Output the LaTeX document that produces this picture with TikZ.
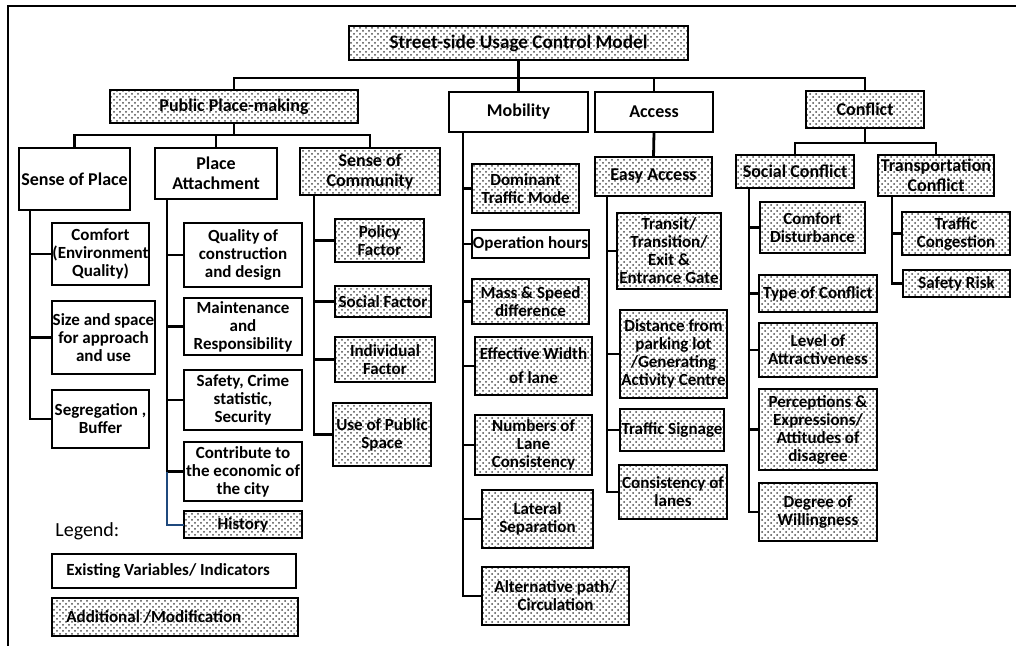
\documentclass[tikz,border=0pt]{standalone}
\usepackage{fontspec}
\setmainfont{Carlito}
\usepackage{tikz}
\usetikzlibrary{patterns}
\newcommand{\boxfont}{\bfseries\fontsize{8.5}{9}\selectfont}
\newcommand{\headfont}{\bfseries\fontsize{9}{10}\selectfont}
\definecolor{linkblue}{RGB}{31,73,125}
\tikzset{plain box/.style={draw,line width=1.4pt,align=center,inner sep=0pt,outer sep=0pt,font=\boxfont},
	extra box/.style={plain box,preaction={fill=white},pattern=crosshatch dots,pattern color=black!70},
	corners/.style n args={4}{anchor=north west,at={(#1,#2)},minimum width={(#3-#1)*0.5pt},minimum height={(#4-#2)*0.5pt}},
	head/.style={font=\headfont},
	link/.style={line width=1.4pt},
	blue link/.style={line width=1pt,color=linkblue}}

\begin{document}
\begin{tikzpicture}[x=0.5pt,y=-0.5pt]
			\useasboundingbox (0,0) rectangle (1016,646);
			\draw[line width=1pt] (1016,6) -- (8,6) -- (8,646);
			% top levels
			\node[extra box,head,font=\bfseries\fontsize{9.6}{11}\selectfont,corners={349}{26}{688}{60}] (root) {Street-side Usage Control Model};
			\node[extra box,head,corners={110}{90}{358}{123}] (ppm) {Public Place-making};
			\node[plain box,head,corners={449}{92}{588}{132}] (mob) {Mobility};
			\node[plain box,head,corners={595}{92}{713}{132}] (acc) {Access};
			\node[extra box,head,corners={806}{91}{924}{128}] (conf) {Conflict};
			\node[plain box,head,corners={19}{148}{130}{210}] (sop) {Sense of Place};
			\node[plain box,head,corners={155}{148}{277}{199}] (pa) {Place\\Attachment};
			\node[extra box,head,corners={300}{148}{440}{195}] (soc) {Sense of\\Community};
			\node[extra box,head,corners={595}{157}{712}{196}] (easy) {Easy Access};
			\node[extra box,head,corners={736}{155}{854}{188}] (socc) {Social Conflict};
			\node[extra box,head,corners={878}{155}{994}{196}] (trc) {Transportation\\Conflict};
			% sense of place
			\node[plain box,corners={52}{223}{149}{285}] (comf) {Comfort\\(Environment\\Quality)};
			\node[plain box,corners={52}{301}{155}{374}] (size) {Size and space\\for approach\\and use};
			\node[plain box,corners={52}{390}{149}{448}] (seg) {Segregation ,\\Buffer};
			% place attachment
			\node[plain box,corners={184}{223}{302}{287}] (qual) {Quality of\\construction\\and design};
			\node[plain box,corners={184}{298}{302}{355}] (maint) {Maintenance\\and\\Responsibility};
			\node[plain box,corners={184}{370}{302}{430}] (safe) {Safety, Crime\\statistic,\\Security};
			\node[plain box,corners={184}{442}{302}{501}] (econ) {Contribute to\\the economic of\\the city};
			\node[extra box,corners={184}{511}{302}{538}] (hist) {History};
			% sense of community
			\node[extra box,corners={335}{219}{424}{262}] (pol) {Policy\\Factor};
			\node[extra box,corners={335}{286}{431}{317}] (socf) {Social Factor};
			\node[extra box,corners={335}{337}{435}{382}] (ind) {Individual\\Factor};
			\node[extra box,corners={333}{403}{431}{466}] (use) {Use of Public\\Space};
			% mobility
			\node[extra box,corners={472}{164}{579}{213}] (dom) {Dominant\\Traffic Mode};
			\node[plain box,corners={472}{230}{589}{258}] (oper) {Operation hours};
			\node[extra box,corners={472}{279}{589}{324}] (mass) {Mass \& Speed\\difference};
			\node[extra box,corners={475}{337}{592}{395}] (eff) {Effective Width\\[3pt]of lane};
			\node[extra box,corners={475}{415}{592}{475}] (num) {Numbers of\\Lane\\Consistency};
			\node[extra box,corners={482}{490}{593}{548}] (lat) {Lateral\\Separation};
			\node[extra box,corners={482}{567}{629}{625}] (alt) {Alternative path/\\Circulation};
			% access
			\node[extra box,corners={617}{213}{721}{289}] (trans) {Transit/\\Transition/\\Exit \&\\Entrance Gate};
			\node[extra box,corners={620}{310}{727}{398}] (dist) {Distance from\\parking lot\\/Generating\\Activity Centre};
			\node[extra box,corners={620}{409}{724}{451}] (sign) {Traffic Signage};
			\node[extra box,corners={619}{465}{727}{519}] (cons) {Consistency of\\lanes};
			% conflict
			\node[extra box,corners={760}{202}{865}{253}] (comd) {Comfort\\Disturbance};
			\node[extra box,corners={759}{275}{877}{312}] (type) {Type of Conflict};
			\node[extra box,corners={759}{323}{877}{377}] (lvl) {Level of\\Attractiveness};
			\node[extra box,corners={759}{389}{877}{470}] (perc) {Perceptions \&\\Expressions/\\Attitudes of\\disagree};
			\node[extra box,corners={759}{483}{877}{541}] (deg) {Degree of\\Willingness};
			\node[extra box,corners={902}{212}{1010}{255}] (traf) {Traffic\\Congestion};
			\node[extra box,corners={903}{270}{1010}{297}] (risk) {Safety Risk};
			% legend
			\node[anchor=west,inner sep=0pt,font=\fontsize{10}{12}\selectfont] (legend) at (55,531) {Legend:};
			\node[plain box,corners={52}{554}{296}{588}] (exist) {};
			\node[anchor=west,inner sep=0pt,font=\boxfont] (existtxt) at (66,571) {Existing Variables/ Indicators};
			\node[extra box,corners={52}{598}{298}{636}] (addit) {};
			\node[anchor=west,inner sep=0pt,font=\boxfont] (additxt) at (66,617) {Additional /Modification};
			% links between levels
			\draw[link] (root.south) -- (mob.north);
			\draw[link] (ppm.north) -- (ppm.north |- 0,78) -- (conf.north |- 0,78) -- (conf.north);
			\draw[link] (acc.north) -- (acc.north |- 0,78);
			\draw[link] (ppm.south) -- (ppm.south |- 0,135);
			\draw[link] (sop.north) -- (sop.north |- 0,135) -- (soc.north |- 0,135) -- (soc.north);
			\draw[link] (pa.north) -- (pa.north |- 0,135);
			\draw[link] (acc.south) -- (easy.north);
			\draw[link] (conf.south) -- (conf.south |- 0,143);
			\draw[link] (socc.north) -- (socc.north |- 0,143) -- (trc.north |- 0,143) -- (trc.north);
			% spines
			\draw[link] (sop.south -| 30,0) |- (seg.west);
			\draw[link] (30,0 |- comf.west) -- (comf.west);
			\draw[link] (30,0 |- size.west) -- (size.west);
			\draw[link] (pa.south -| 167,0) |- (econ.west);
			\draw[link] (167,0 |- qual.west) -- (qual.west);
			\draw[link] (167,0 |- maint.west) -- (maint.west);
			\draw[link] (167,0 |- safe.west) -- (safe.west);
			\draw[blue link] (econ.west -| 167,0) |- (hist.west);
			\draw[link] (soc.south -| 314,0) |- (use.west);
			\draw[link] (314,0 |- pol.west) -- (pol.west);
			\draw[link] (314,0 |- socf.west) -- (socf.west);
			\draw[link] (314,0 |- ind.west) -- (ind.west);
			\draw[link] (mob.south -| 463,0) |- (alt.west);
			\draw[link] (463,0 |- dom.west) -- (dom.west);
			\draw[link] (463,0 |- oper.west) -- (oper.west);
			\draw[link] (463,0 |- mass.west) -- (mass.west);
			\draw[link] (463,0 |- eff.west) -- (eff.west);
			\draw[link] (463,0 |- num.west) -- (num.west);
			\draw[link] (463,0 |- lat.west) -- (lat.west);
			\draw[link] (easy.south -| 607,0) |- (cons.west);
			\draw[link] (607,0 |- trans.west) -- (trans.west);
			\draw[link] (607,0 |- dist.west) -- (dist.west);
			\draw[link] (607,0 |- sign.west) -- (sign.west);
			\draw[link] (socc.south -| 749,0) |- (deg.west);
			\draw[link] (749,0 |- comd.west) -- (comd.west);
			\draw[link] (749,0 |- type.west) -- (type.west);
			\draw[link] (749,0 |- lvl.west) -- (lvl.west);
			\draw[link] (749,0 |- perc.west) -- (perc.west);
			\draw[link] (trc.south -| 892,0) |- (risk.west);
			\draw[link] (892,0 |- traf.west) -- (traf.west);
		\end{tikzpicture}
\end{document}
